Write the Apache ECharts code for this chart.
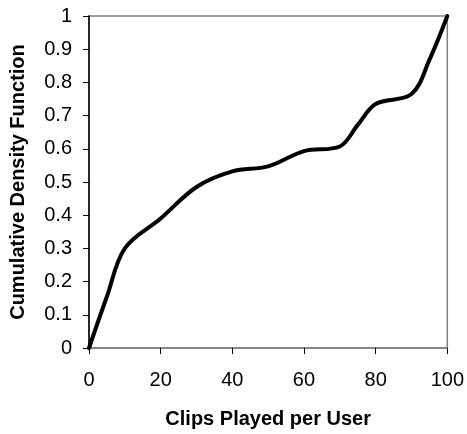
<!DOCTYPE html>
<html>
<head>
<meta charset="utf-8">
<script src="https://cdn.jsdelivr.net/npm/echarts@6/dist/echarts.min.js"></script>
<style>
html,body{margin:0;padding:0;background:#fff;}
#chart{width:467px;height:434px;}
</style>
</head>
<body>
<div id="chart"></div>
<script>
var clipsPlayed = [0, 5, 10, 20, 30, 40, 50, 60, 70, 75, 80, 90, 95, 100];
var cdfValues = [0, 0.155, 0.30, 0.39, 0.485, 0.532, 0.547, 0.593, 0.607, 0.672, 0.735, 0.765, 0.868, 1.0];
var xTickLabels = ['0', '20', '40', '60', '80', '100'];
var yTickLabels = ['0', '0.1', '0.2', '0.3', '0.4', '0.5', '0.6', '0.7', '0.8', '0.9', '1'];
var xTitle = 'Clips Played per User';
var yTitle = 'Cumulative Density Function';

var font = 'Arial, "Liberation Sans", sans-serif';
var chart = echarts.init(document.getElementById('chart'));
var points = clipsPlayed.map(function (x, i) { return [x, cdfValues[i]]; });
chart.setOption({
  animation: false,
  backgroundColor: '#ffffff',
  grid: {
    left: 87, right: 19, top: 16, bottom: 84,
    show: true, borderColor: '#808080', borderWidth: 1.5, backgroundColor: 'transparent'
  },
  xAxis: {
    type: 'value', min: 0, max: 100, interval: 20,
    name: xTitle, nameLocation: 'middle', nameGap: 61,
    nameTextStyle: { fontFamily: font, fontSize: 20, fontWeight: 'bold', color: '#000' },
    axisLine: { show: true, lineStyle: { color: '#808080', width: 1.5 } },
    axisTick: { show: true, length: 6, lineStyle: { color: '#000', width: 1 } },
    axisLabel: {
      margin: 22, fontFamily: font, fontSize: 20, color: '#000',
      formatter: function (v) { return xTickLabels[Math.round(v / 20)]; }
    },
    splitLine: { show: false }
  },
  yAxis: {
    type: 'value', min: 0, max: 1, interval: 0.1,
    name: yTitle, nameLocation: 'middle', nameGap: 61, nameRotate: 90,
    nameTextStyle: { fontFamily: font, fontSize: 20, fontWeight: 'bold', color: '#000' },
    axisLine: { show: true, lineStyle: { color: '#000', width: 1.5 } },
    axisTick: { show: true, length: 6, lineStyle: { color: '#000', width: 1 } },
    axisLabel: {
      margin: 17, fontFamily: font, fontSize: 20, color: '#000',
      formatter: function (v) { return yTickLabels[Math.round(v * 10)]; }
    },
    splitLine: { show: false }
  },
  series: [{
    type: 'line',
    data: points,
    smooth: 0.35,
    symbol: 'none',
    lineStyle: { color: '#000', width: 4, cap: 'round', join: 'round' }
  }]
});
</script>
</body>
</html>
